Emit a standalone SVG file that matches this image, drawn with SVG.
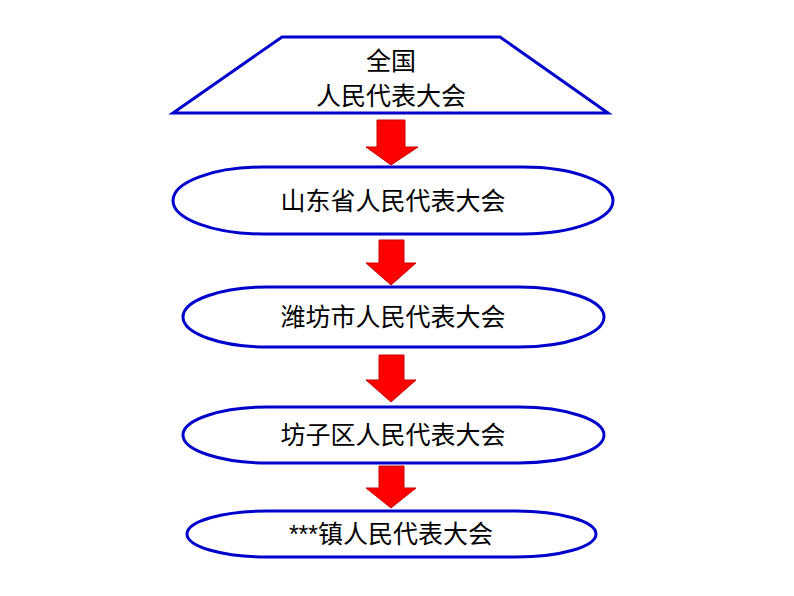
<svg xmlns="http://www.w3.org/2000/svg" width="794" height="596" viewBox="0 0 794 596">
<style>
.n{fill:#fff;stroke:#0000cc;stroke-width:3}
.a{fill:#ff0000;stroke:#cc0000;stroke-width:1}
text{font-family:"Liberation Sans","Noto Sans CJK SC",sans-serif;font-size:25px;fill:#000;text-anchor:middle}
</style>
<rect width="794" height="596" fill="#fff"/>
<g id="connectors">
<polygon class="a" points="377,120 405,120 405,147 418,147 391,165 366,147 377,147"/>
<polygon class="a" points="379,240 404,240 404,263 416,263 391,285 366,263 379,263"/>
<polygon class="a" points="379,355 404,355 404,380 416,380 391,402 366,380 379,380"/>
<polygon class="a" points="379,466 404,466 404,488 416,488 391,508 366,488 379,488"/>
</g>
<g id="n0"><polygon class="n" points="282,37 500,37 608,113 173,113"/><text x="391" y="70">全国</text><text x="391" y="105">人民代表大会</text></g>
<g id="n1"><rect class="n" x="173" y="167" width="440" height="67" rx="90" ry="33.5"/><text x="393" y="210">山东省人民代表大会</text></g>
<g id="n2"><rect class="n" x="183" y="287" width="421" height="60" rx="85" ry="30"/><text x="393" y="326">潍坊市人民代表大会</text></g>
<g id="n3"><rect class="n" x="183" y="407" width="421" height="56" rx="85" ry="28"/><text x="393" y="444">坊子区人民代表大会</text></g>
<g id="n4"><rect class="n" x="187" y="511" width="409" height="46" rx="80" ry="23"/><text x="391" y="543">***镇人民代表大会</text></g>
</svg>
